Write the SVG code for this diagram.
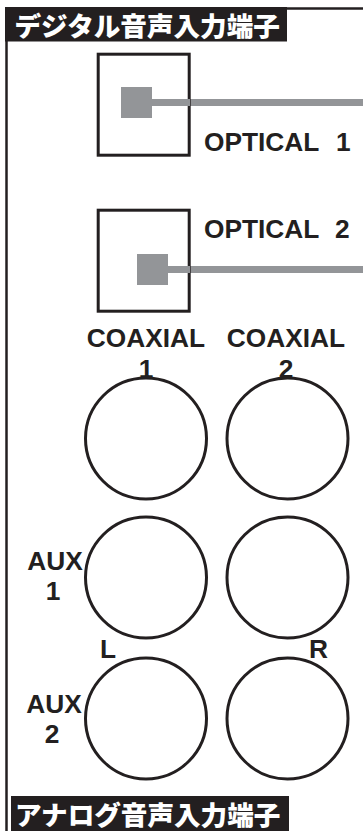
<svg xmlns="http://www.w3.org/2000/svg" width="363" height="831" viewBox="0 0 363 831">
<style>
.hdr{fill:#231f20}
.hdrtxt{fill:#ffffff;font-family:"Noto Sans CJK JP","Noto Sans CJK SC",sans-serif;font-weight:900;font-size:26.6px}
.lbl{fill:#231f20;font-family:"Liberation Sans",Arial,sans-serif;font-weight:bold;font-size:26.3px}
.box{fill:#ffffff;stroke:#231f20;stroke-width:3}
.jack{fill:#ffffff;stroke:#231f20;stroke-width:3}
.port{fill:#939598}
.wire{stroke:#939598;stroke-width:7;fill:none}
.frame{stroke:#231f20;fill:none}
</style>
<rect x="0" y="0" width="363" height="831" fill="#ffffff"/>
<g id="frame">
<line class="frame" x1="6.5" y1="8" x2="6.5" y2="831" stroke-width="2.5"/>
<line class="frame" x1="280" y1="8.5" x2="363" y2="8.5" stroke-width="2.5"/>
</g>
<g id="header-digital">
<rect class="hdr" x="5" y="7" width="282" height="34.5"/>
<text class="hdrtxt" x="14.5" y="35.5">デジタル音声入力端子</text>
</g>
<g id="connectors">
<line class="wire" x1="150" y1="102.5" x2="363" y2="102.5"/>
<line class="wire" x1="166" y1="269.5" x2="363" y2="269.5"/>
</g>
<g id="optical1">
<rect class="box" x="98.2" y="54.2" width="91" height="101"/>
<rect class="port" x="121" y="87" width="31" height="31"/>
<line class="wire" x1="150" y1="102.5" x2="190" y2="102.5"/>
<text class="lbl" x="204" y="151">OPTICAL <tspan x="336">1</tspan></text>
</g>
<g id="optical2">
<rect class="box" x="98.2" y="210.2" width="91" height="101"/>
<rect class="port" x="137" y="254" width="31" height="31"/>
<line class="wire" x1="166" y1="269.5" x2="190" y2="269.5"/>
<text class="lbl" x="204" y="238">OPTICAL <tspan x="335">2</tspan></text>
</g>
<g id="coaxial1">
<circle class="jack" cx="146" cy="438.5" r="60.5"/>
<text class="lbl" x="146" y="347" text-anchor="middle">COAXIAL</text>
<text class="lbl" x="146" y="378" text-anchor="middle">1</text>
</g>
<g id="coaxial2">
<circle class="jack" cx="287.5" cy="438.5" r="60.5"/>
<text class="lbl" x="286" y="347" text-anchor="middle">COAXIAL</text>
<text class="lbl" x="286" y="378" text-anchor="middle">2</text>
</g>
<g id="aux1-l">
<circle class="jack" cx="146" cy="577.5" r="60.5"/>
<text class="lbl" x="55" y="570" text-anchor="middle">AUX</text>
<text class="lbl" x="53" y="600" text-anchor="middle">1</text>
</g>
<g id="aux1-r">
<circle class="jack" cx="287.5" cy="577.5" r="60.5"/>
</g>
<g id="aux2-l">
<circle class="jack" cx="146" cy="718.5" r="60.5"/>
<text class="lbl" x="100" y="658">L</text>
<text class="lbl" x="54" y="713" text-anchor="middle">AUX</text>
<text class="lbl" x="52" y="743" text-anchor="middle">2</text>
</g>
<g id="aux2-r">
<circle class="jack" cx="287.5" cy="718.5" r="60.5"/>
<text class="lbl" x="309" y="658">R</text>
</g>
<g id="header-analog">
<rect class="hdr" x="11" y="796" width="278" height="35"/>
<text class="hdrtxt" x="15" y="824.5">アナログ音声入力端子</text>
</g>
</svg>
